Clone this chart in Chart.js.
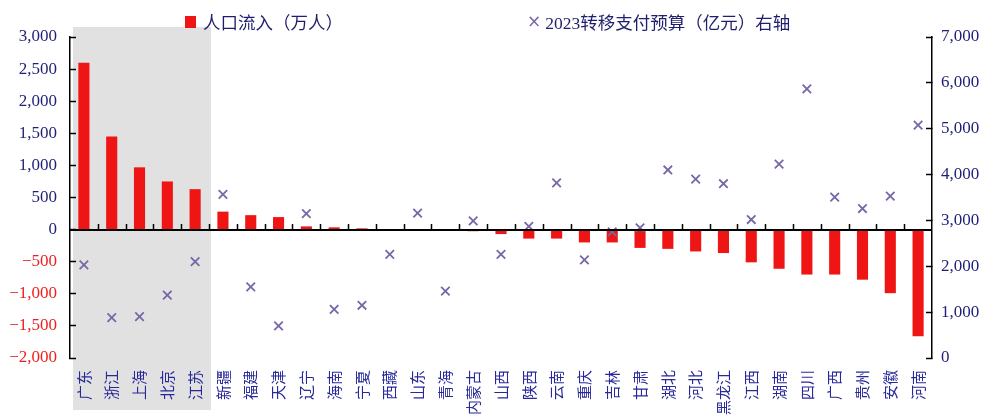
<!DOCTYPE html>
<html>
<head>
<meta charset="utf-8">
<script src="https://cdn.jsdelivr.net/npm/chart.js@4.4.1/dist/chart.umd.min.js"></script>
<style>
  html, body { margin: 0; padding: 0; background: #fff; overflow: hidden; }
  .wrap { position: relative; width: 985px; height: 419px; }
  .legend { position: absolute; left: 185px; top: 9px; display: flex; gap: 184px; align-items: center;
    font: 17.5px "Liberation Serif", "Noto Sans CJK SC", serif; color: #1f1f6e; white-space: nowrap; }
  .legend .item { display: flex; align-items: center; }
  .legend .box { width: 11px; height: 12px; margin-right: 7px; }
  .legend .cross { font: 17px "DejaVu Sans", sans-serif; margin-right: 4px; line-height: 1; }
</style>
</head>
<body>
<div class="wrap">
  <canvas id="chart" width="985" height="419"></canvas>
  <div class="legend" id="legend"></div>
</div>
<script>
const categories = ['广东','浙江','上海','北京','江苏','新疆','福建','天津','辽宁','海南','宁夏','西藏','山东','青海','内蒙古','山西','陕西','云南','重庆','吉林','甘肃','湖北','河北','黑龙江','江西','湖南','四川','广西','贵州','安徽','河南'];
const inflow = [2600,1450,970,750,630,280,225,195,50,35,20,0,0,0,-25,-70,-140,-140,-200,-200,-285,-300,-340,-365,-510,-610,-700,-700,-780,-990,-1660];
const transfer = [2030,880,900,1370,2100,3570,1550,700,3150,1060,1150,2260,3160,1460,2990,2260,2870,3820,2140,2750,2840,4100,3900,3800,3020,4230,5870,3510,3260,3530,5080];
const shadedCount = 5;

const navy = '#1f1f78';
const red = '#f01515';
const purple = '#7866a8';
const serif = '"Liberation Serif", "Times New Roman", serif';

const fmt = v => {
  const s = Math.abs(v).toLocaleString('en-US');
  return v < 0 ? '\u2212' + s : s;
};

// grey box behind the first provinces
const shadePlugin = {
  id: 'shade',
  beforeDraw(chart) {
    const x = chart.scales.x, area = chart.chartArea, ctx = chart.ctx;
    const half = (x.getPixelForValue(1) - x.getPixelForValue(0)) / 2;
    const left = x.getPixelForValue(0) - half + 3;
    const right = x.getPixelForValue(shadedCount - 1) + half + 2;
    ctx.save();
    ctx.fillStyle = '#e1e1e1';
    ctx.fillRect(left, area.top - 10, right - left, area.bottom - area.top + 62);
    ctx.restore();
  }
};

// zero line with small upward ticks between categories
const zeroAxisPlugin = {
  id: 'zeroAxis',
  afterDatasetsDraw(chart) {
    const x = chart.scales.x, y = chart.scales.y, ctx = chart.ctx, area = chart.chartArea;
    const y0 = Math.round(y.getPixelForValue(0));
    const half = (x.getPixelForValue(1) - x.getPixelForValue(0)) / 2;
    ctx.save();
    ctx.strokeStyle = '#000';
    ctx.lineWidth = 2;
    ctx.beginPath();
    ctx.moveTo(area.left, y0);
    ctx.lineTo(area.right, y0);
    ctx.stroke();
    ctx.lineWidth = 1.5;
    ctx.beginPath();
    for (let i = 0; i < categories.length - 1; i++) {
      const bx = Math.round(x.getPixelForValue(i) + half) + 0.5;
      ctx.moveTo(bx, y0);
      ctx.lineTo(bx, y0 - 6);
    }
    ctx.stroke();
    ctx.restore();
  }
};

const chart = new Chart(document.getElementById('chart'), {
  data: {
    labels: categories,
    datasets: [
      {
        type: 'line', label: '2023转移支付预算（亿元）右轴', data: transfer, yAxisID: 'y1',
        showLine: false, pointStyle: 'crossRot', pointRadius: 6, pointBorderWidth: 1.8,
        borderColor: purple, backgroundColor: purple, order: 0
      },
      {
        type: 'bar', label: '人口流入（万人）', data: inflow, yAxisID: 'y',
        backgroundColor: red, barPercentage: 0.4, categoryPercentage: 1, order: 1
      }
    ]
  },
  options: {
    responsive: false,
    animation: false,
    layout: { padding: { top: 37, left: 0, right: 0, bottom: 0 } },
    plugins: { legend: { display: false }, tooltip: { enabled: false } },
    scales: {
      x: {
        type: 'category', position: 'bottom', offset: true,
        grid: { display: false, drawTicks: false }, border: { display: false },
        ticks: { minRotation: 90, maxRotation: 90, autoSkip: false, padding: 12, color: '#28289a',
          font: { family: '"Noto Sans CJK SC", sans-serif', size: 15 } },
        afterFit: s => { s.height = 61; }
      },
      y: {
        position: 'left', min: -2000, max: 3000,
        ticks: { stepSize: 500, padding: 19, callback: v => fmt(v),
          color: c => c.tick.value < 0 ? '#ee2222' : navy, font: { family: serif, size: 17 } },
        grid: { drawOnChartArea: false, drawTicks: true, tickLength: -6, tickColor: '#000', tickWidth: 1.5 },
        border: { display: true, color: '#000', width: 1.5 },
        afterFit: s => { s.width = 70; }
      },
      y1: {
        position: 'right', min: 0, max: 7000,
        ticks: { stepSize: 1000, padding: 15, callback: v => fmt(v), color: navy, font: { family: serif, size: 17 } },
        grid: { drawOnChartArea: false, drawTicks: true, tickLength: -6, tickColor: '#000', tickWidth: 1.5 },
        border: { display: true, color: '#000', width: 1.5 },
        afterFit: s => { s.width = 53; }
      }
    }
  },
  plugins: [shadePlugin, zeroAxisPlugin]
});

// html legend built from the datasets, bar first
const legend = document.getElementById('legend');
[chart.data.datasets[1], chart.data.datasets[0]].forEach(ds => {
  const item = document.createElement('span');
  item.className = 'item';
  const mark = document.createElement('span');
  if (ds.type === 'bar') {
    mark.className = 'box';
    mark.style.background = ds.backgroundColor;
  } else {
    mark.className = 'cross';
    mark.style.color = ds.borderColor;
    mark.textContent = '\u00d7';
  }
  item.appendChild(mark);
  item.appendChild(document.createTextNode(ds.label));
  legend.appendChild(item);
});
</script>
</body>
</html>
